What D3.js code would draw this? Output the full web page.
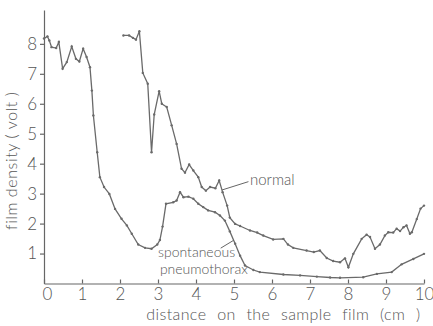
<!DOCTYPE html>
<html>
<head>
<meta charset="utf-8">
<script src="https://cdn.jsdelivr.net/npm/d3@7"></script>
<style>
  html, body { margin: 0; padding: 0; background: #fff; }
  svg { display: block; font-family: Lato, "Open Sans", sans-serif; font-weight: 300; }
  .axis path, .axis line { stroke: #666; stroke-width: 1.2; }
  .axis text { fill: #555; font-size: 17px; font-family: Lato, sans-serif; font-weight: 300; }
</style>
</head>
<body>
<svg id="chart" width="433" height="326"></svg>
<script>
// spontaneous pneumothorax: distance (cm) / film density (volt)
const pneumoX = [0, 0.09, 0.14, 0.20, 0.32, 0.39, 0.49, 0.60, 0.73, 0.84, 0.93, 1.03, 1.12, 1.21,
  1.26, 1.30, 1.40, 1.47, 1.58, 1.72, 1.87, 2.04, 2.18, 2.31, 2.48, 2.66, 2.83, 2.98, 3.05, 3.12,
  3.21, 3.40, 3.49, 3.58, 3.67, 3.80, 3.93, 4.06, 4.19, 4.32, 4.50, 4.63, 4.76, 4.89, 5.03, 5.16,
  5.29, 5.51, 5.68, 6.30, 6.74, 7.18, 7.53, 7.79, 8.40, 8.76, 9.15, 9.41, 9.72, 10.0];
const pneumoY = [8.18, 8.25, 8.11, 7.89, 7.86, 8.06, 7.17, 7.39, 7.91, 7.50, 7.41, 7.84, 7.56, 7.22,
  6.44, 5.61, 4.38, 3.55, 3.22, 2.99, 2.49, 2.16, 1.94, 1.66, 1.30, 1.19, 1.16, 1.30, 1.45, 1.90,
  2.66, 2.71, 2.77, 3.05, 2.88, 2.90, 2.83, 2.66, 2.55, 2.44, 2.38, 2.27, 2.10, 1.74, 1.33, 0.93,
  0.60, 0.45, 0.38, 0.30, 0.27, 0.23, 0.20, 0.19, 0.21, 0.32, 0.38, 0.64, 0.82, 0.99];

// normal
const normalX = [2.09, 2.24, 2.34, 2.42, 2.51, 2.60, 2.73, 2.83, 2.90, 3.03, 3.10, 3.23, 3.36, 3.49,
  3.62, 3.71, 3.82, 3.93, 4.06, 4.15, 4.26, 4.37, 4.51, 4.61, 4.70, 4.82, 4.89, 5.03, 5.16, 5.42,
  5.61, 5.77, 6.03, 6.30, 6.42, 6.56, 6.91, 7.10, 7.26, 7.44, 7.61, 7.79, 7.92, 8.01, 8.14, 8.36,
  8.49, 8.58, 8.71, 8.84, 8.97, 9.06, 9.19, 9.28, 9.37, 9.46, 9.54, 9.63, 9.68, 9.81, 9.91, 10.0];
const normalY = [8.28, 8.28, 8.20, 8.14, 8.42, 7.03, 6.67, 4.38, 5.64, 6.42, 6.00, 5.89, 5.28, 4.66,
  3.83, 3.70, 3.97, 3.77, 3.55, 3.22, 3.10, 3.22, 3.18, 3.44, 3.05, 2.60, 2.20, 1.99, 1.92, 1.77,
  1.70, 1.60, 1.47, 1.49, 1.30, 1.19, 1.10, 1.05, 1.10, 0.85, 0.75, 0.71, 0.84, 0.54, 0.99, 1.49,
  1.63, 1.55, 1.16, 1.30, 1.60, 1.71, 1.70, 1.83, 1.75, 1.88, 1.94, 1.66, 1.71, 2.15, 2.50, 2.60];

const xTicks = [0, 1, 2, 3, 4, 5, 6, 7, 8, 9, 10];
const yTicks = [1, 2, 3, 4, 5, 6, 7, 8];

const svg = d3.select('#chart');

const x = d3.scaleLinear().domain([0, 10]).range([44, 424]);
const y = d3.scaleLinear().domain([0, 9.13]).range([283.5, 10]);

// axes
svg.append('g')
    .attr('class', 'axis')
    .attr('transform', `translate(0,${y(0)})`)
    .call(d3.axisBottom(x).tickValues(xTicks).tickFormat(d3.format('d'))
        .tickSizeInner(-4).tickSizeOuter(0).tickPadding(4))
    .selectAll('.tick text')
    .attr('dx', d => d === 0 ? 3 : 0);

svg.append('g')
    .attr('class', 'axis')
    .attr('transform', `translate(${x(0)},0)`)
    .call(d3.axisLeft(y).tickValues(yTicks).tickFormat(d3.format('d'))
        .tickSizeInner(4).tickSizeOuter(0).tickPadding(3));

// axis titles
svg.append('text')
    .attr('transform', `translate(13,${y(4.1)}) rotate(-90)`)
    .attr('text-anchor', 'middle')
    .attr('dominant-baseline', 'middle')
    .attr('fill', '#555')
    .attr('font-size', 16)
    .attr('letter-spacing', 0.6)
    .text('film density ( volt )');

svg.append('text')
    .attr('x', x(6.3))
    .attr('y', 320)
    .attr('text-anchor', 'middle')
    .attr('fill', '#555')
    .attr('font-size', 16)
    .attr('letter-spacing', 0.4)
    .attr('word-spacing', 6)
    .text('distance on the sample film (cm )');

// series
const line = d3.line().x(d => x(d[0])).y(d => y(d[1]));
const series = [
    d3.zip(pneumoX, pneumoY),
    d3.zip(normalX, normalY)
];

series.forEach(pts => {
    svg.append('path')
        .datum(pts)
        .attr('fill', 'none')
        .attr('stroke', '#6a6a6a')
        .attr('stroke-width', 1.3)
        .attr('d', line);
    svg.append('g').selectAll('circle')
        .data(pts)
        .enter().append('circle')
        .attr('cx', d => x(d[0]))
        .attr('cy', d => y(d[1]))
        .attr('r', 1.2)
        .attr('fill', '#6a6a6a');
});

// annotations
svg.append('line')
    .attr('x1', x(4.68)).attr('y1', y(3.12))
    .attr('x2', x(5.38)).attr('y2', y(3.4))
    .attr('stroke', '#666').attr('stroke-width', 1);
svg.append('text')
    .attr('x', x(5.42)).attr('y', y(3.4))
    .attr('dominant-baseline', 'middle')
    .attr('fill', '#555').attr('font-size', 15)
    .text('normal');

svg.append('line')
    .attr('x1', x(4.65)).attr('y1', y(1.18))
    .attr('x2', x(5.0)).attr('y2', y(1.45))
    .attr('stroke', '#666').attr('stroke-width', 1);
svg.append('text')
    .attr('x', x(3.0)).attr('y', y(1.0))
    .attr('dominant-baseline', 'middle')
    .attr('fill', '#555').attr('font-size', 14)
    .text('spontaneous');
svg.append('text')
    .attr('x', x(3.05)).attr('y', y(0.42))
    .attr('dominant-baseline', 'middle')
    .attr('fill', '#555').attr('font-size', 14)
    .text('pneumothorax');
</script>
</body>
</html>
